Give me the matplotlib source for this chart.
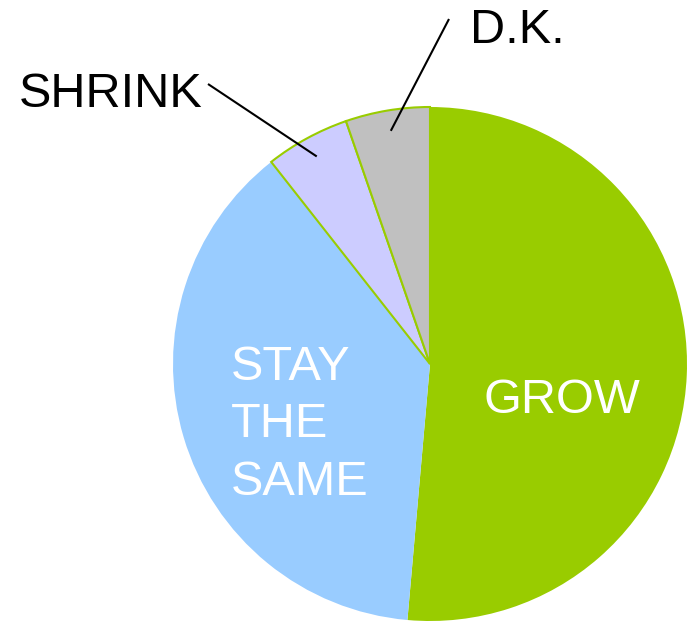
import numpy as np
import matplotlib
matplotlib.use("Agg")
import matplotlib.pyplot as plt

labels = ["GROW", "STAY\nTHE\nSAME", "SHRINK", "D.K."]
values = [51.4, 38.0, 5.3, 5.3]
colors = ["#99CC00", "#99CCFF", "#CCCCFF", "#C0C0C0"]

plt.rcParams['font.family'] = ['Liberation Sans', 'DejaVu Sans']

H = 622
fig = plt.figure(figsize=(6.95, 6.22), dpi=100)
ax = fig.add_axes([0, 0, 1, 1])

cx, cy, r = 430, H - 364, 257
wedges, _ = ax.pie(values, colors=colors, startangle=90, counterclock=False,
                   center=(cx, cy), radius=r, frame=True,
                   wedgeprops=dict(linewidth=0))
ax.set_xlim(0, 695)
ax.set_ylim(0, H)
ax.set_aspect('equal')
ax.axis('off')
for w in wedges[2:]:
    w.set_edgecolor("#99CC00")
    w.set_linewidth(1.5)

fs = 35
# inside labels
ax.text(562, H - 413, labels[0], color="white", fontsize=fs, ha="center", va="baseline")
for line, base in zip(labels[1].split("\n"), [380, 437, 495]):
    ax.text(231, H - base, line, color="white", fontsize=fs, ha="left", va="baseline")

# outside labels with leader lines
def mid_point(w, frac):
    ang = np.deg2rad((w.theta1 + w.theta2) / 2)
    return cx + frac * r * np.cos(ang), cy + frac * r * np.sin(ang)

ax.text(203, H - 107, labels[2], fontsize=fs, ha="right", va="baseline", color="black")
ax.text(470, H - 43, labels[3], fontsize=fs, ha="left", va="baseline", color="black")

for w, outer in [(wedges[2], (208, H - 84)), (wedges[3], (449, H - 19))]:
    ix, iy = mid_point(w, 0.92)
    ax.plot([outer[0], ix], [outer[1], iy], color="black", lw=1.5,
            solid_capstyle="butt")

fig.savefig("out.png", dpi=100)
